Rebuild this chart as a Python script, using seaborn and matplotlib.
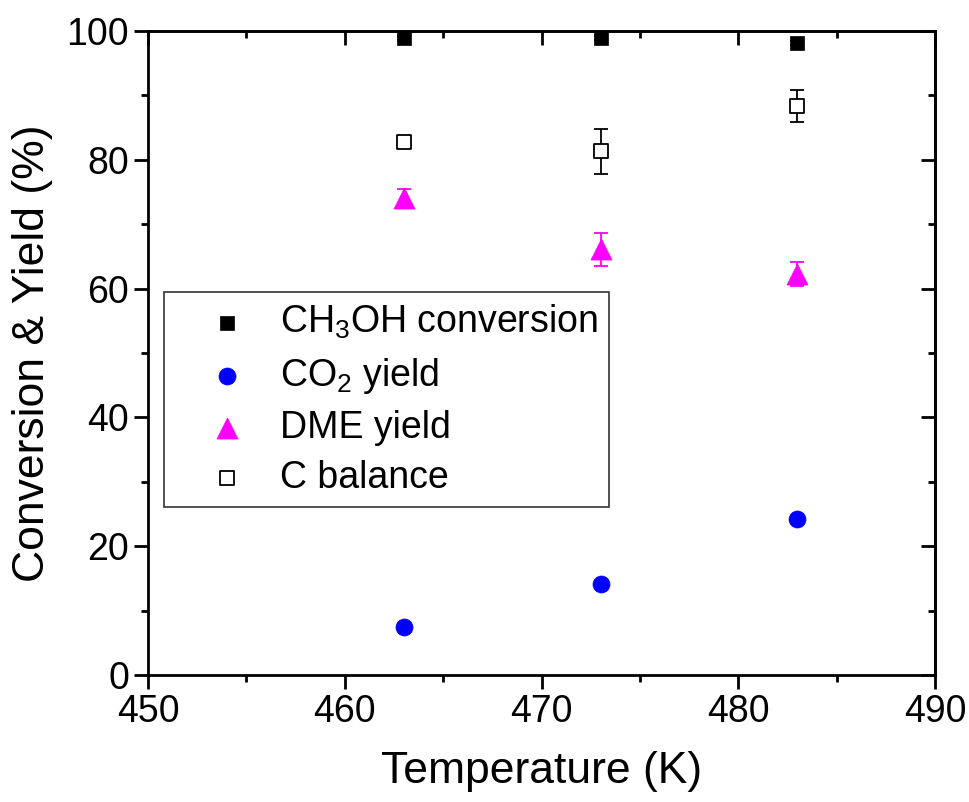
import matplotlib
matplotlib.use("Agg")
import matplotlib.pyplot as plt
from matplotlib.ticker import MultipleLocator
import seaborn as sns
import pandas as pd

# Reaction temperatures (K)
temperature = [463, 473, 483]

# Measured values (%) and their standard deviations
ch3oh_conversion = [98.9, 98.9, 98.2]
ch3oh_err = [0.3, 0.3, 0.3]
co2_yield = [7.5, 14.1, 24.2]
co2_err = [0.2, 0.2, 0.2]
dme_yield = [74.1, 66.1, 62.3]
dme_err = [1.3, 2.6, 1.9]
c_balance = [82.8, 81.3, 88.4]
c_balance_err = [0.8, 3.5, 2.5]

labels = ["CH$_3$OH conversion", "CO$_2$ yield", "DME yield", "C balance"]

sns.set_style("white")
plt.rcParams["font.family"] = ["Liberation Sans", "DejaVu Sans"]
plt.rcParams["mathtext.fontset"] = "custom"
plt.rcParams["mathtext.rm"] = "Liberation Sans"
plt.rcParams["mathtext.it"] = "Liberation Sans:italic"
plt.rcParams["text.color"] = "black"
plt.rcParams["axes.labelcolor"] = "black"
plt.rcParams["xtick.color"] = "black"
plt.rcParams["ytick.color"] = "black"

fig = plt.figure(figsize=(9.69, 8.02), dpi=100)
ax = fig.add_axes([0.1527, 0.1584, 0.8123, 0.8029])

series = [
    (ch3oh_conversion, ch3oh_err, dict(marker="s", color="black", s=110, edgecolor="black", linewidth=0.5), "black"),
    (co2_yield, co2_err, dict(marker="o", color="blue", s=150, edgecolor="blue", linewidth=0.5), "blue"),
    (dme_yield, dme_err, dict(marker="^", color="magenta", s=230, edgecolor="magenta", linewidth=0.5), "magenta"),
    (c_balance, c_balance_err, dict(marker="s", facecolor="white", s=100, edgecolor="black", linewidth=1.3), "black"),
]

handles = []
for (vals, errs, style, ecol), lab in zip(series, labels):
    ax.errorbar(temperature, vals, yerr=errs, fmt="none", ecolor=ecol,
                elinewidth=1.3, capsize=5, capthick=1.3, zorder=2)
    df = pd.DataFrame({"T": temperature, "v": vals})
    sns.scatterplot(data=df, x="T", y="v", ax=ax, zorder=3, **style)
    handles.append(ax.collections[-1])

ax.set_xlim(450, 490)
ax.set_ylim(0, 100)
ax.xaxis.set_major_locator(MultipleLocator(10))
ax.xaxis.set_minor_locator(MultipleLocator(5))
ax.yaxis.set_major_locator(MultipleLocator(20))
ax.yaxis.set_minor_locator(MultipleLocator(10))

ax.set_xlabel("Temperature (K)", fontsize=32, labelpad=15, color="black")
ax.set_ylabel("Conversion & Yield (%)", fontsize=32, labelpad=10, color="black")

for sp in ax.spines.values():
    sp.set_visible(True)
    sp.set_color("black")
    sp.set_linewidth(2)

ax.tick_params(which="both", direction="out", width=2, colors="black",
               bottom=True, left=True, top=False, right=False, labelsize=27)
ax.tick_params(which="major", length=10)
ax.tick_params(which="minor", length=5)

# inward ticks along the top and right frame
top = ax.secondary_xaxis("top")
top.set_xticks(range(450, 491, 10))
top.xaxis.set_minor_locator(MultipleLocator(5))
top.tick_params(which="both", direction="in", width=2, labeltop=False)
top.tick_params(which="major", length=10)
top.tick_params(which="minor", length=5)
top.spines["top"].set_linewidth(2)
right = ax.secondary_yaxis("right")
right.set_yticks(range(0, 101, 20))
right.yaxis.set_minor_locator(MultipleLocator(10))
right.tick_params(which="both", direction="in", width=2, labelright=False)
right.tick_params(which="major", length=10)
right.tick_params(which="minor", length=5)
right.spines["right"].set_linewidth(2)

leg = ax.legend(handles, labels, loc="upper left", bbox_to_anchor=(0.02, 0.595),
                fontsize=27, frameon=True, fancybox=False, edgecolor="black",
                borderpad=0.3, labelspacing=0.38, handletextpad=0.05,
                handlelength=2.75, borderaxespad=0)
leg.get_frame().set_linewidth(1.2)
for t in leg.get_texts():
    t.set_color("black")

fig.savefig("out.png", dpi=100)
